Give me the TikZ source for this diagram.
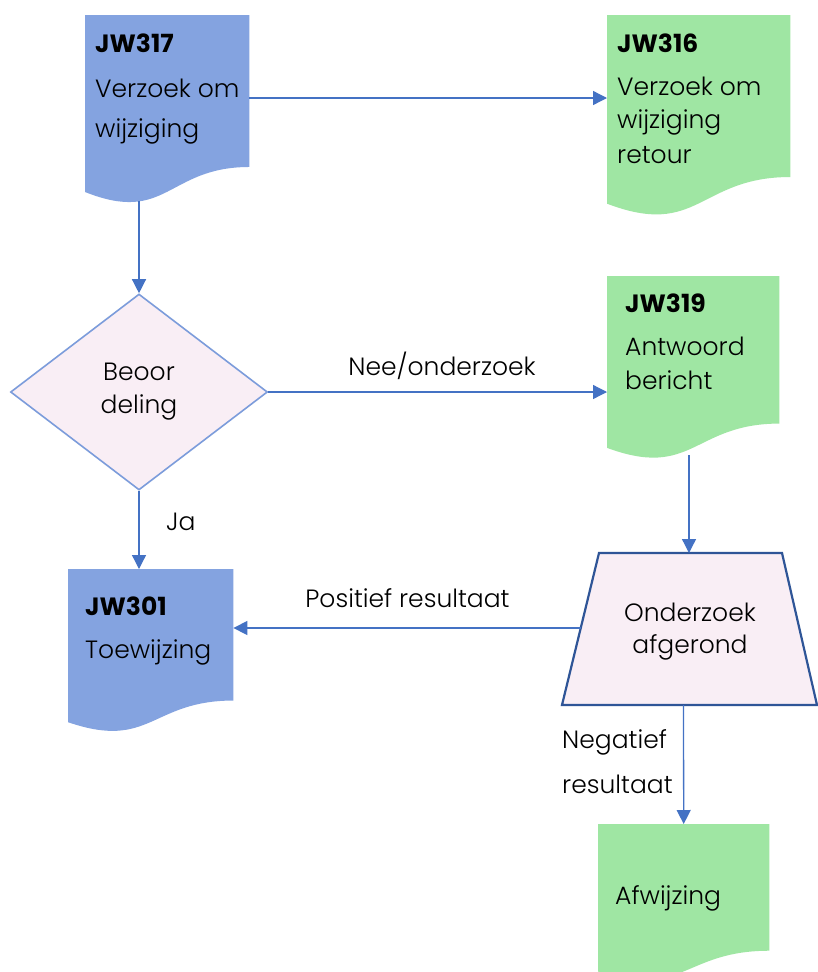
\documentclass[tikz,border=0pt]{standalone}
\usepackage{fontspec}
\setmainfont{Poppins}[UprightFont={* Light}, BoldFont={* Bold}]
\usetikzlibrary{shapes.geometric,arrows.meta,calc}
\definecolor{docblue}{HTML}{84A3E0}
\definecolor{docgreen}{HTML}{9FE6A3}
\definecolor{pinkfill}{HTML}{F9EEF5}
\definecolor{diaborder}{HTML}{7C9CDB}
\definecolor{trapborder}{HTML}{2F5597}
\definecolor{arrowblue}{HTML}{4472C4}
\newcommand\docshape[6]{%
  \node[minimum width=#4pt, minimum height=#5pt, inner sep=0pt, anchor=north west] (#1) at (#2,#3) {};
  \fill[#6] (#1.north west) -- (#1.north east) -- ($(#1.north east)+(0,0.802*#5)$)
    .. controls ($(#1.north)+(0,0.802*#5)$) and ($(#1.north)+(0,1.107*#5)$) ..
    ($(#1.north west)+(0,0.934*#5)$) -- cycle;
}
\begin{document}
\begin{tikzpicture}[x=1pt,y=-1pt,
  arr/.style={draw=arrowblue, line width=1.3pt, -{Triangle[length=14pt,width=14pt]}},
  txt/.style={font=\fontsize{25}{28}\selectfont, inner sep=0pt, anchor=base west},
  btxt/.style={font=\fontsize{25}{28}\selectfont\bfseries, inner sep=0pt, anchor=base west},
  lbl/.style={font=\fontsize{25}{28}\selectfont, inner sep=0pt}]
\useasboundingbox (0,0) rectangle (817,972);
\fill[white] (0,0) rectangle (817,972);

\docshape{d317}{85}{15}{164}{189.5}{docblue}
\docshape{d316}{607}{15}{183}{202}{docgreen}
\docshape{d319}{607}{276}{172}{184}{docgreen}
\docshape{d301}{68}{569}{165}{164}{docblue}
\docshape{afw}{598}{824}{171}{158}{docgreen}

\node[btxt] (t317a) at (95,52) {JW317};
\node[txt] (t317b) at (95,97) {Verzoek om};
\node[txt] (t317c) at (95,137) {wijziging};

\node[btxt] (t316a) at (617,52) {JW316};
\node[txt] (t316b) at (617,95) {Verzoek om};
\node[txt] (t316c) at (617,128) {wijziging};
\node[txt] (t316d) at (617,163) {retour};

\node[btxt] (t319a) at (625,312) {JW319};
\node[txt] (t319b) at (625,355) {Antwoord};
\node[txt] (t319c) at (625,389) {bericht};

\node[btxt] (t301a) at (85,615) {JW301};
\node[txt] (t301b) at (85,658) {Toewijzing};

\node[txt] (tafw) at (615,904) {Afwijzing};

\node[diamond, draw=diaborder, fill=pinkfill, line width=1.6pt, shape aspect=1.31,
  minimum width=257pt, minimum height=196pt, inner sep=0pt, align=center,
  font=\fontsize{25}{33}\selectfont] (dia) at (139,392) {Beoor\\deling};

% trapezoid drawn directly
\draw[trapborder, fill=pinkfill, line width=2.2pt, line join=miter]
  (599,553) -- (782,553) -- (817,705) -- (562,705) -- cycle;
\node[align=center, inner sep=0pt, font=\fontsize{25}{32}\selectfont] (trap) at (690,632) {Onderzoek\\afgerond};
\coordinate (trapT) at (689,553);
\coordinate (trapL) at (581,628);
\coordinate (trapB) at (683.5,705);

\draw[arr] ([yshift=-83pt]d317.north east) -- ([yshift=-83pt]d316.north west);
\draw[arr] ($(d317.south -| dia.north)+(0,-4)$) -- (dia.north);
\draw[arr] (dia.east) -- (dia.east -| d319.west);
\draw[arr] (dia.south) -- (dia.south |- d301.north);
\draw[arr] ($(d319.south -| trapT)+(0,-5)$) -- (trapT);
\draw[arr] (trapL) -- (trapL -| d301.east);
\draw[arr] (trapB) -- (afw.north);

\node[lbl, anchor=base] (lnee) at (442,375) {Nee/onderzoek};
\node[lbl, anchor=base west] (lja) at (166,530) {Ja};
\node[lbl, anchor=base] (lpos) at (407.5,607) {Positief resultaat};
\node[lbl, anchor=base west] (lneg1) at (562,748) {Negatief};
\node[lbl, anchor=base west] (lneg2) at (562,793) {resultaat};
\end{tikzpicture}
\end{document}
